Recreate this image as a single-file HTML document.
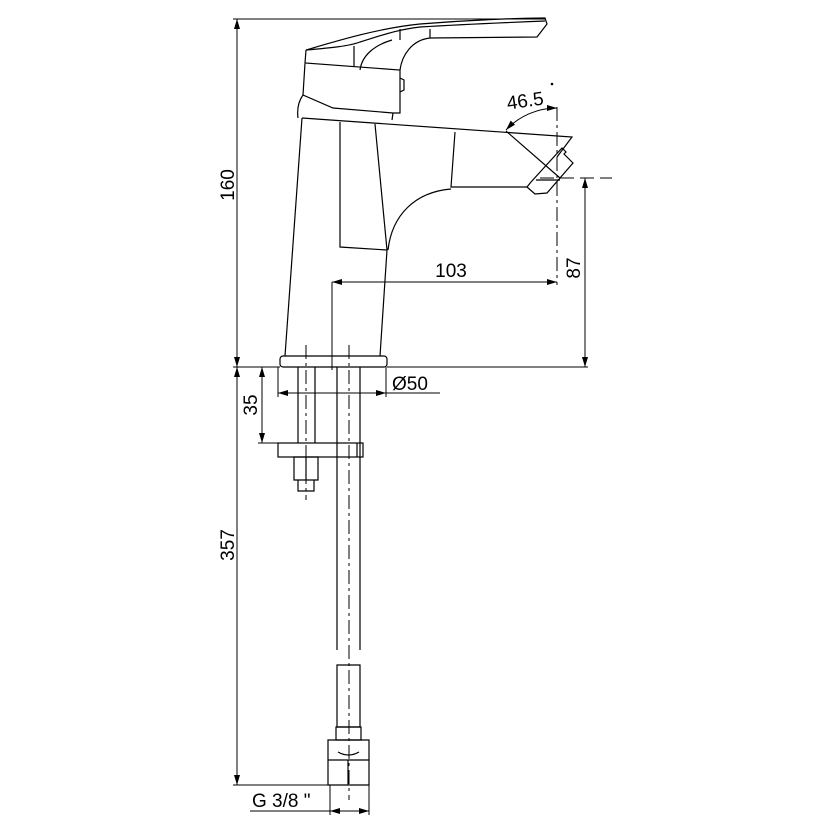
<!DOCTYPE html>
<html><head><style>
html,body{margin:0;padding:0;background:#fff;}
svg{display:block;}
text{font-family:"Liberation Sans",sans-serif;fill:#000;}
</style></head><body>
<svg width="823" height="823" viewBox="0 0 823 823" xmlns="http://www.w3.org/2000/svg">
<defs>
<marker id="a" viewBox="0 0 10 6" refX="10" refY="3" markerWidth="10" markerHeight="6" orient="auto-start-reverse" markerUnits="userSpaceOnUse"><path d="M0,0 L10,3 L0,6 z" fill="#000"/></marker>
</defs>
<g fill="none" stroke="#000" stroke-width="1.2">
<path d="M306,50 C340,40 380,28 420,24 C470,20 520,18 545,18 L547,24 L537,37 L430,38 C412,40 402,55 400,70"/>
<path d="M306,50 C330,48 350,46 360,42 C380,36 395,30 420,27 C470,24 520,22 545,21"/>
<path d="M430,38 L430,29 M400,29 L400,40 M354,46 L354,66 M360,70 C362,55 375,45 392,40"/>
<path d="M306,50 L305,63 L400,70 L400,113 L393,113 L333,108 L303,95 L305,63"/>
<path d="M400,78 L404,80 L404,90 L400,92"/>
<path d="M303,95 C298,102 297,110 298,118 M393,113 L392,120"/>
<path d="M302,118 L572,137 L557,157"/>
<path d="M302,118 L285,356"/>
<path d="M340,122 L340,247 L387,250 L380,356"/>
<path d="M375,124 L387,250"/>
<path d="M455,132 L451,187 L527,187"/>
<path d="M451,189 C415,192 392,215 388,250"/>
<path d="M527,187 L531,182 L562,148 L566,152 L564,154 L573,163 L547,193 L535,194 Z"/>
<path d="M536,180 L560,180 M506,131 L560,178"/>
<rect x="280" y="356" width="107" height="11" rx="3"/>
<path d="M298,367 L298,443 M315,367 L315,443 M337,367 L337,650 M360,367 L360,650"/>
<rect x="278" y="443" width="85" height="14"/>
<path d="M357,443 L357,457"/>
<path d="M294,457 L318,457 L318,480 L294,480 Z M306,457 L306,480 M298,480 L298,491 L314,491 L314,480"/>
<path d="M337,665 L360,665 L360,727 L337,727 Z"/>
<path d="M336,727 L361,727 L361,740 L336,740 Z"/>
<path d="M328,740 L369,740 L369,785 L328,785 Z M328,760 L369,760 M348,760 L348,785 M338,752 C345,756 352,756 359,752"/>
</g>
<g fill="none" stroke="#000" stroke-width="1" stroke-dasharray="14,4,3,4">
<path d="M306,345 L306,500"/>
<path d="M349,345 L349,800"/>
<path d="M557,107 L557,285"/>
<path d="M540,178 L612,178" stroke-dasharray="14,6"/>
</g>
<g fill="none" stroke="#000" stroke-width="1">
<path d="M233,19 L545,19"/>
<path d="M237,19 L237,367" marker-start="url(#a)" marker-end="url(#a)"/>
<path d="M233,367 L280,367 M387,367 L588,367"/>
<path d="M237,367 L237,785" marker-start="url(#a)" marker-end="url(#a)"/>
<path d="M233,785 L328,785"/>
<path d="M262,367 L262,443" marker-start="url(#a)" marker-end="url(#a)"/>
<path d="M258,443 L278,443"/>
<path d="M278,367 L278,397 M386,367 L386,397"/>
<path d="M278,393 L386,393" marker-start="url(#a)" marker-end="url(#a)"/>
<path d="M386,393 L440,393"/>
<path d="M332,282 L557,282" marker-start="url(#a)" marker-end="url(#a)"/>
<path d="M332,282 L332,370"/>
<path d="M585,178 L585,367" marker-start="url(#a)" marker-end="url(#a)"/>
<path d="M506,130 A70,70 0 0 1 557,108" marker-start="url(#a)" marker-end="url(#a)"/>
<path d="M330,785 L330,815 M369,785 L369,815"/>
<path d="M330,811 L369,811" marker-start="url(#a)" marker-end="url(#a)"/>
<path d="M250,811 L330,811"/>
</g>
<circle cx="552" cy="84" r="1.3" fill="#000"/>
<g font-size="19">
<text transform="translate(234,185) rotate(-90)" text-anchor="middle">160</text>
<text transform="translate(234,545) rotate(-90)" text-anchor="middle">357</text>
<text transform="translate(257,405) rotate(-90)" text-anchor="middle">35</text>
<text transform="translate(580,268) rotate(-90)" text-anchor="middle">87</text>
<text x="451" y="277" text-anchor="middle">103</text>
<text x="392" y="390">Ø50</text>
<text x="252" y="807">G 3/8 "</text>
<text transform="translate(526,107) rotate(-8)" text-anchor="middle">46.5</text>
</g>
</svg>
</body></html>
